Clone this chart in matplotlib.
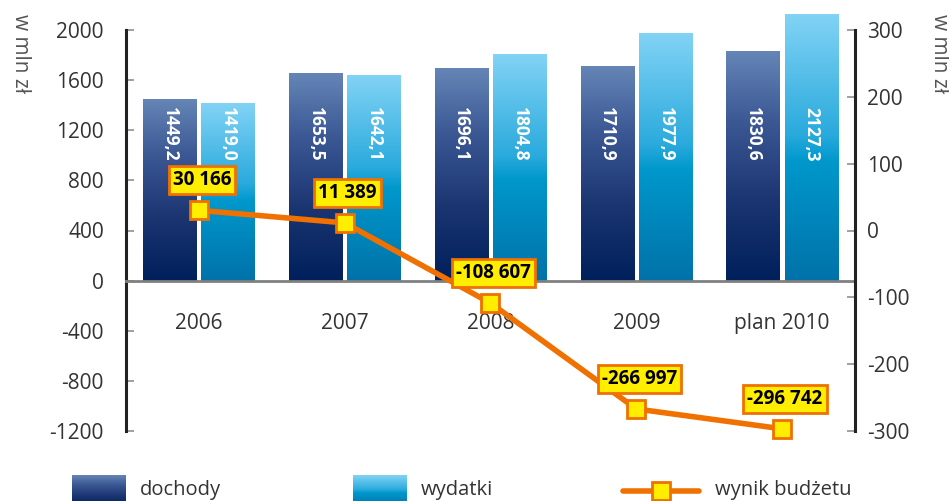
import numpy as np
import matplotlib

matplotlib.use("Agg")
import matplotlib.pyplot as plt
from matplotlib.colors import LinearSegmentedColormap
from matplotlib.lines import Line2D

plt.rcParams["font.family"] = ["Open Sans", "DejaVu Sans"]
plt.rcParams["axes.unicode_minus"] = False

# dane
lata = ["2006", "2007", "2008", "2009", "plan 2010"]
dochody = [1449.2, 1653.5, 1696.1, 1710.9, 1830.6]
wydatki = [1419.0, 1642.1, 1804.8, 1977.9, 2127.3]
wynik = [30166, 11389, -108607, -266997, -296742]

cmap_doch = LinearSegmentedColormap.from_list(
    "doch", [(0, "#00205b"), (0.35, "#1b3571"), (0.7, "#3c5995"), (1, "#6585b6")])
cmap_wyd = LinearSegmentedColormap.from_list(
    "wyd", [(0, "#0072a9"), (0.45, "#0098cc"), (0.55, "#2aaadd"), (1, "#82d3f5")])
grad = np.linspace(1, 0, 256).reshape(-1, 1)

orange = "#f07000"
yellow = "#ffee00"
txt_col = "#333333"

fig = plt.figure(figsize=(9.49, 5.01), dpi=100)
ax = fig.add_axes([126 / 949, 70 / 501, 729 / 949, 401 / 501])

x = np.arange(len(lata))
w = 0.365
off = 0.2

for i in x:
    for val, dx, cm in [(dochody[i], -off, cmap_doch), (wydatki[i], off, cmap_wyd)]:
        ax.imshow(grad, extent=[i + dx - w / 2, i + dx + w / 2, 0, val],
                  cmap=cm, aspect="auto", clip_on=False, zorder=2)
        ax.text(i + dx, 1165, f"{val:.1f}".replace(".", ","), rotation=-90,
                ha="center", va="center", color="white", fontsize=12.5,
                fontweight="bold", zorder=3)

ax.set_xlim(-0.5, len(lata) - 0.5)
ax.set_ylim(-1200, 2000)
ax.set_yticks(range(-1200, 2001, 400))
ax.set_xticks(x)
ax.set_xticklabels(lata)

ax.spines["top"].set_visible(False)
ax.spines["right"].set_visible(False)
ax.spines["left"].set_color("#222222")
ax.spines["left"].set_linewidth(2.2)
ax.spines["bottom"].set_position(("data", 0))
ax.spines["bottom"].set_color("#808080")
ax.spines["bottom"].set_linewidth(2)
ax.tick_params(axis="y", direction="in", length=6, width=1.3, color="#999999",
               labelsize=15, labelcolor=txt_col, pad=16)
ax.tick_params(axis="x", length=0, labelsize=15, labelcolor=txt_col, pad=23)

ax2 = ax.twinx()
ax2.set_ylim(-300, 300)
ax2.set_yticks(range(-300, 301, 100))
for s in ["left", "top", "bottom"]:
    ax2.spines[s].set_visible(False)
ax2.spines["right"].set_color("#222222")
ax2.spines["right"].set_linewidth(2.2)
ax2.tick_params(axis="y", direction="in", length=6, width=1.3, color="#999999",
                labelsize=15, labelcolor=txt_col, pad=9)

wynik_mld = [v / 1000 for v in wynik]
ax2.plot(x, wynik_mld, color=orange, lw=4, marker="s", markersize=13,
         markerfacecolor=yellow, markeredgecolor=orange, markeredgewidth=2,
         zorder=5, clip_on=False)

for i, v in enumerate(wynik):
    lab = f"{v:,}".replace(",", " ")
    ax2.annotate(lab, (x[i], wynik_mld[i]), xytext=(3, 30), textcoords="offset pixels",
                 ha="center", va="center", fontsize=13.5, fontweight="bold", color="black",
                 bbox=dict(boxstyle="square,pad=0.22", fc=yellow, ec=orange, lw=2),
                 zorder=6)

# opisy osi
fig.text(20 / 949, 1 - 53 / 501, "w mln zł", rotation=-90, ha="center", va="center",
         fontsize=15, color="#555555")
fig.text(940 / 949, 1 - 53 / 501, "w mln zł", rotation=-90, ha="center", va="center",
         fontsize=15, color="#555555")

# legenda
for x0, cm, lab in [(72, cmap_doch, "dochody"), (353, cmap_wyd, "wydatki")]:
    sw = fig.add_axes([x0 / 949, -6 / 501, 54 / 949, 32 / 501])
    sw.imshow(grad, cmap=cm, aspect="auto")
    sw.axis("off")
    fig.text((x0 + 68) / 949, 1 - 490 / 501, lab, ha="left", va="center",
             fontsize=14.5, color=txt_col)

fig.add_artist(Line2D([623 / 949, 699 / 949], [1 - 491 / 501] * 2, color=orange, lw=4,
                      solid_capstyle="round"))
fig.add_artist(Line2D([661 / 949], [1 - 491 / 501], marker="s", markersize=13,
                      markerfacecolor=yellow, markeredgecolor=orange,
                      markeredgewidth=2, color=orange))
fig.text(715 / 949, 1 - 490 / 501, "wynik budżetu", ha="left", va="center",
         fontsize=14.5, color=txt_col)

fig.savefig("out.png", dpi=100)
